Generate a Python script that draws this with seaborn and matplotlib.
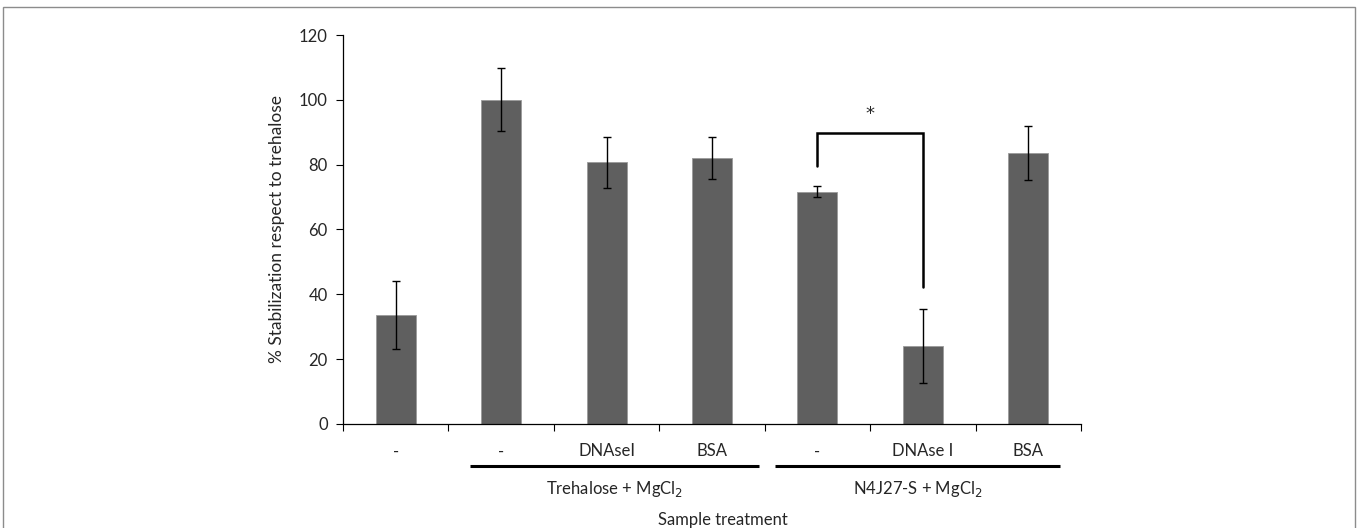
import matplotlib
matplotlib.use("Agg")
import matplotlib.pyplot as plt
import matplotlib.transforms as mtransforms
from matplotlib.patches import Rectangle
import numpy as np
import pandas as pd
import seaborn as sns

# Treatment labels, mean stabilization and error half-widths
treatments = ["-", "-", "DNAseI", "BSA", "-", "DNAse I", "BSA"]
stabilization = [33.5, 100.0, 80.7, 82.0, 71.7, 24.0, 83.5]
errors = [10.5, 9.7, 7.8, 6.5, 1.8, 11.5, 8.3]
groups = ["Trehalose + MgCl$_2$", "N4J27-S + MgCl$_2$"]
yticks = [0, 20, 40, 60, 80, 100, 120]

sns.set_theme(style="white")
plt.rcParams["font.family"] = ["Lato", "DejaVu Sans"]
FS = 12

df = pd.DataFrame({
    "slot": [f"s{i}" for i in range(len(treatments))],
    "value": stabilization,
})

fig = plt.figure(figsize=(13.58, 5.28), dpi=100)
ax = fig.add_axes([0.2526, 0.197, 0.5434, 0.7367])

bar_color = "#5f5f5f"
sns.barplot(data=df, x="slot", y="value", color=bar_color, width=0.38,
            edgecolor="#9a9a9a", linewidth=0.6, ax=ax, errorbar=None,
            saturation=1)
xs = np.arange(len(treatments))
ax.errorbar(xs, stabilization, yerr=errors, fmt="none", ecolor="black",
            elinewidth=1.0, capsize=3, capthick=1.0)

ax.set_ylim(0, 120)
ax.set_xlim(-0.5, len(treatments) - 0.5)
ax.set_yticks(yticks)
ax.set_yticklabels([str(t) for t in yticks], fontsize=FS)
ax.set_xticks(xs)
ax.set_xticklabels(treatments, fontsize=FS)
ax.set_xticks(np.arange(-0.5, len(treatments)), minor=True)
ax.tick_params(axis="x", which="major", length=0, pad=14)
ax.tick_params(axis="x", which="minor", length=5, width=0.8, color="black",
               direction="out", bottom=True)
ax.tick_params(axis="y", length=5, width=0.8, color="black", direction="out",
               left=True, pad=6)

for side in ["top", "right"]:
    ax.spines[side].set_visible(False)
for side in ["left", "bottom"]:
    ax.spines[side].set_color("black")
    ax.spines[side].set_linewidth(0.9)

ax.set_xlabel("")
ax.set_ylabel("% Stabilization respect to trehalose", fontsize=FS + 0.5,
              labelpad=10)

# Group underlines and labels below the category labels
trans = mtransforms.blended_transform_factory(ax.transData, ax.transAxes)
spans = [(0.70, 3.45), (3.60, 6.30)]
for (x0, x1), name in zip(spans, groups):
    ax.plot([x0, x1], [-0.108, -0.108], color="black", lw=2.2,
            transform=trans, clip_on=False, solid_capstyle="butt")
    ax.text((x0 + x1) / 2, -0.168, name, transform=trans, ha="center",
            va="center", fontsize=FS)

ax.text(0.5 * (len(treatments) - 1) + 0.1, -0.247, "Sample treatment",
        transform=trans, ha="center", va="center", fontsize=FS)

# Significance bracket between N4J27-S "-" and "DNAse I"
ax.plot([4, 4, 5, 5], [79.5, 89.8, 89.8, 42.3], color="black", lw=1.8,
        solid_joinstyle="miter")
ax.text(4.5, 95.5, "*", ha="center", va="center", fontsize=13,
        family="DejaVu Sans")

# Panel frame
fig.patches.append(Rectangle((3 / 1358, -0.05), 1352 / 1358, 1 - 7 / 528 + 0.05,
                             transform=fig.transFigure, fill=False,
                             edgecolor="#8c8c8c", lw=1.0))

fig.savefig("out.png", dpi=100)
